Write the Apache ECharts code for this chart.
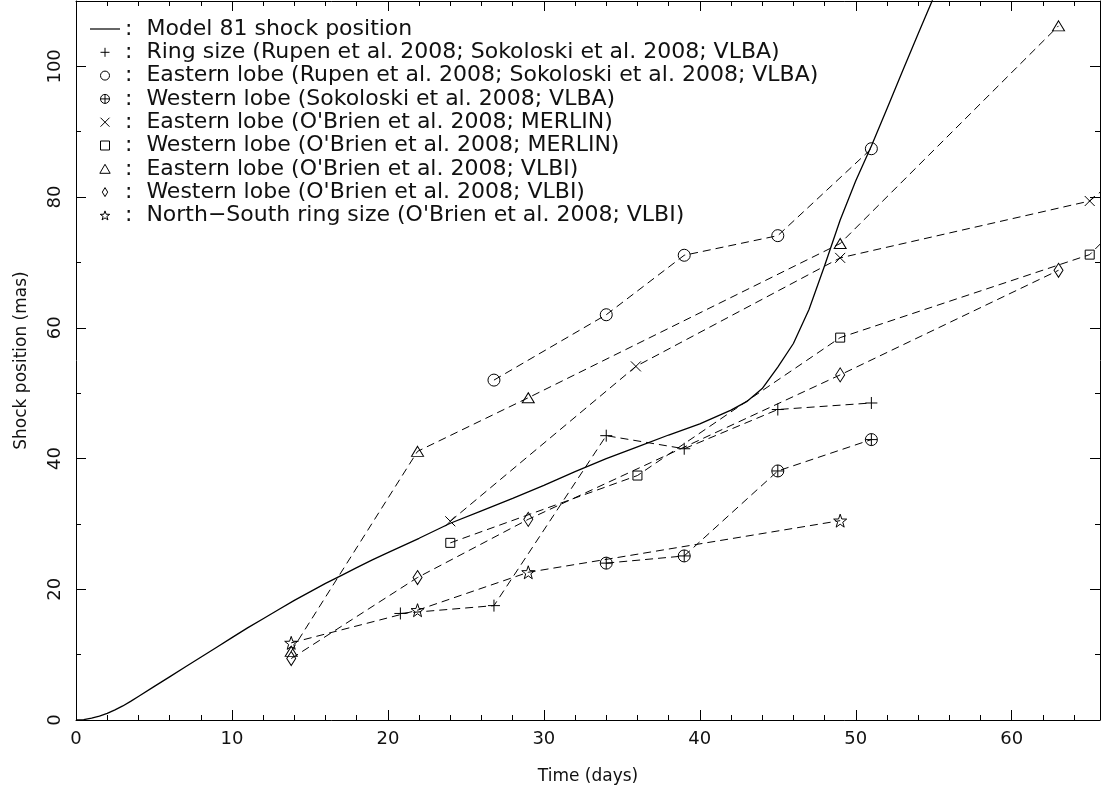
<!DOCTYPE html>
<html>
<head>
<meta charset="utf-8">
<script src="https://cdn.jsdelivr.net/npm/echarts@6/dist/echarts.min.js"></script>
<style>
  html, body { margin: 0; padding: 0; background: #fff; }
  #chart { width: 1101px; height: 799px; }
</style>
</head>
<body>
<div id="chart"></div>
<script>
// model curve
const modelDays = [0, 0.5, 1, 1.5, 2, 2.5, 3, 3.5, 4, 5, 6, 7, 8, 9, 10, 11, 12, 13, 14, 15, 16, 17, 18, 19, 20, 22, 24, 26, 28, 30, 32, 34, 36, 38, 40, 42, 43, 44, 45, 46, 47, 48, 49, 50, 51, 52, 53, 54, 55, 56];
const modelPos = [0, 0.05, 0.3, 0.6, 1.0, 1.55, 2.15, 2.85, 3.6, 5.1, 6.6, 8.1, 9.6, 11.1, 12.6, 14.1, 15.5, 16.9, 18.3, 19.6, 20.9, 22.1, 23.3, 24.5, 25.6, 27.8, 30.1, 32.0, 33.9, 35.9, 38.0, 40.0, 41.8, 43.6, 45.3, 47.4, 48.7, 50.7, 54.0, 57.6, 62.8, 69.5, 76.5, 82.5, 87.8, 93.5, 99.3, 105.0, 110.6, 116.0];

// observations
const ringDays = [20.8, 26.8, 34.0, 39.0, 45.0, 51.0];
const ringSize = [16.3, 17.5, 43.5, 41.5, 47.5, 48.5];
const eastRupenDays = [26.8, 34.0, 39.0, 45.0, 51.0];
const eastRupen = [52.0, 62.0, 71.1, 74.1, 87.4];
const westSokDays = [34.0, 39.0, 45.0, 51.0];
const westSok = [24.0, 25.1, 38.1, 42.9];
const eastMerlinDays = [24.0, 35.9, 49.0, 65.0, 70.0];
const eastMerlin = [30.4, 54.1, 70.7, 79.4, 89.6];
const westMerlinDays = [24.0, 36.0, 49.0, 65.0, 70.0];
const westMerlin = [27.1, 37.4, 58.5, 71.2, 83.2];
const eastVlbiDays = [13.8, 21.9, 29.0, 49.0, 63.0];
const eastVlbi = [10.5, 41.1, 49.3, 72.9, 106.2];
const westVlbiDays = [13.8, 21.9, 29.0, 49.0, 63.0];
const westVlbi = [9.4, 21.8, 30.7, 52.8, 68.8];
const nsRingDays = [13.8, 21.9, 29.0, 49.0];
const nsRing = [11.8, 16.8, 22.6, 30.5];

const names = [
  'Model 81 shock position',
  'Ring size (Rupen et al. 2008; Sokoloski et al. 2008; VLBA)',
  'Eastern lobe (Rupen et al. 2008; Sokoloski et al. 2008; VLBA)',
  'Western lobe (Sokoloski et al. 2008; VLBA)',
  "Eastern lobe (O'Brien et al. 2008; MERLIN)",
  "Western lobe (O'Brien et al. 2008; MERLIN)",
  "Eastern lobe (O'Brien et al. 2008; VLBI)",
  "Western lobe (O'Brien et al. 2008; VLBI)",
  "North\u2212South ring size (O'Brien et al. 2008; VLBI)"
];

const X_MAX = 65.66;
const Y_MAX = 110;
const FONT = 'DejaVu Sans';

const symLine = 'path://M0 0L30 0L30 1.2L0 1.2Z';
const symPlus = 'path://M0 5L10 5M5 0L5 10';
const symCross = 'path://M0 0L10 10M10 0L0 10';
const symCircle = 'path://M0 5A5 5 0 1 1 10 5A5 5 0 1 1 0 5Z';
const symCirclePlus = 'path://M0 5A5 5 0 1 1 10 5A5 5 0 1 1 0 5ZM0 5L10 5M5 0L5 10';
const symSquare = 'path://M0 0L10 0L10 10L0 10Z';
const symTriangle = 'path://M5 0L10 8.7L0 8.7Z';
const symDiamond = 'path://M3 0L6 5L3 10L0 5Z';
const symStar = 'path://M50 0L61.8 33.8L97.6 34.5L69 56.2L79.4 90.5L50 70L20.6 90.5L31 56.2L2.4 34.5L38.2 33.8Z';

const zip = (xs, ys) => xs.map((x, i) => [x, ys[i]]);
const hollow = { color: 'transparent', borderColor: '#000', borderWidth: 1 };

function obs(name, xs, ys, symbol, size) {
  return {
    name: name,
    type: 'line',
    data: zip(xs, ys),
    symbol: symbol,
    symbolSize: size,
    showSymbol: true,
    itemStyle: hollow,
    lineStyle: { color: '#000', width: 1, type: [8, 5] },
    z: 3
  };
}

function xAx(pos, step, len, main) {
  return {
    type: 'value', position: pos, min: 0, max: X_MAX, interval: step,
    axisLine: { show: main, onZero: false, lineStyle: { color: '#000', width: 1 } },
    axisTick: { show: true, inside: true, length: len, lineStyle: { color: '#000' } },
    axisLabel: { show: false },
    splitLine: { show: false }
  };
}
function yAx(pos, step, len, main) {
  return {
    type: 'value', position: pos, min: 0, max: Y_MAX, interval: step,
    axisLine: { show: main, onZero: false, lineStyle: { color: '#000', width: 1 } },
    axisTick: { show: true, inside: true, length: len, lineStyle: { color: '#000' } },
    axisLabel: { show: false },
    splitLine: { show: false }
  };
}

const xBottom = xAx('bottom', 10, 10, true);
xBottom.axisLabel = { show: true, margin: 10, showMaxLabel: false, fontFamily: FONT, fontSize: 18, color: '#111' };
xBottom.name = 'Time (days)';
xBottom.nameLocation = 'middle';
xBottom.nameGap = 48;
xBottom.nameTextStyle = { fontFamily: FONT, fontSize: 17, color: '#111' };

const yLeft = yAx('left', 20, 10, true);
yLeft.axisLabel = { show: true, margin: 12, rotate: 90, showMaxLabel: false, fontFamily: FONT, fontSize: 18, color: '#111' };
yLeft.name = 'Shock position (mas)';
yLeft.nameLocation = 'middle';
yLeft.nameGap = 46;
yLeft.nameTextStyle = { fontFamily: FONT, fontSize: 17, color: '#111' };

const legendIcons = [symLine, symPlus, symCircle, symCirclePlus, symCross, symSquare, symTriangle, symDiamond, symStar];

const option = {
  animation: false,
  backgroundColor: '#fff',
  grid: { left: 76, right: 1, top: 1, bottom: 79 },
  xAxis: [xBottom, xAx('bottom', 2, 5, false), xAx('top', 10, 10, true), xAx('top', 2, 5, false)],
  yAxis: [yLeft, yAx('left', 10, 5, false), yAx('right', 20, 10, true), yAx('right', 10, 5, false)],
  legend: {
    orient: 'vertical',
    left: 85,
    top: 13,
    itemWidth: 30,
    itemHeight: 9,
    itemGap: 1.3,
    symbolKeepAspect: true,
    selectedMode: false,
    formatter: n => ':  ' + n,
    textStyle: { fontFamily: FONT, fontSize: 22, lineHeight: 21, color: '#111' },
    data: names.map((n, i) => ({
      name: n,
      icon: legendIcons[i],
      itemStyle: i === 0 ? { color: '#000', borderWidth: 0 } : hollow
    }))
  },
  series: [
    {
      name: names[0],
      type: 'line',
      data: zip(modelDays, modelPos),
      showSymbol: false,
      symbol: 'none',
      itemStyle: { color: '#000' },
      lineStyle: { color: '#000', width: 1.3 },
      z: 2
    },
    obs(names[1], ringDays, ringSize, symPlus, 12),
    obs(names[2], eastRupenDays, eastRupen, symCircle, 12),
    obs(names[3], westSokDays, westSok, symCirclePlus, 12),
    obs(names[4], eastMerlinDays, eastMerlin, symCross, 10),
    obs(names[5], westMerlinDays, westMerlin, symSquare, 9),
    obs(names[6], eastVlbiDays, eastVlbi, symTriangle, [12, 10]),
    obs(names[7], westVlbiDays, westVlbi, symDiamond, [9, 14]),
    obs(names[8], nsRingDays, nsRing, symStar, 13)
  ]
};

echarts.init(document.getElementById('chart')).setOption(option);
</script>
</body>
</html>
